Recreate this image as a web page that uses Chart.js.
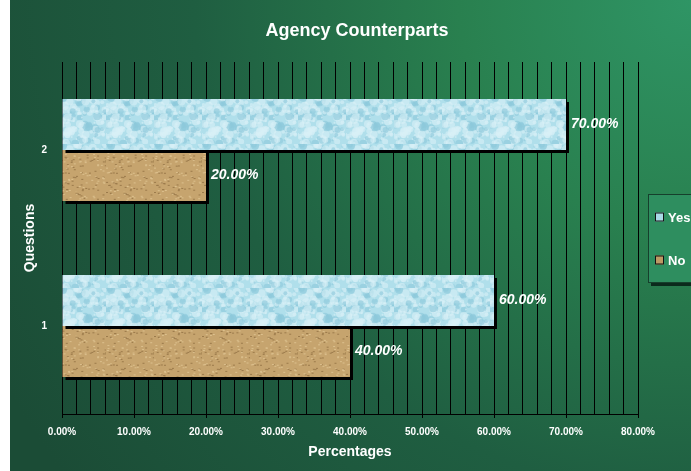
<!DOCTYPE html>
<html>
<head>
<meta charset="utf-8">
<script src="https://cdn.jsdelivr.net/npm/chart.js@4/dist/chart.umd.min.js"></script>
<style>
  html, body { margin: 0; padding: 0; background: #fff; }
  #wrap {
    position: absolute; left: 10px; top: 0; width: 681px; height: 471px;
    background: radial-gradient(circle at 100% 0%, #2f9565 0%, #29804f 28%, #1f5e41 60%, #1b4c36 95%);
  }
</style>
</head>
<body>
<div id="wrap"><canvas id="agencyChart" width="681" height="471"></canvas></div>
<script>
const questions = ['1', '2'];
const yesValues = [60, 70];
const noValues = [40, 20];
const seriesNames = ['Yes', 'No'];

const FONT = '"Liberation Sans", Arial, sans-serif';

// little textures for the bars
function makePattern(base, spot, dark, kind) {
  const c = document.createElement('canvas');
  c.width = 48; c.height = 48;
  const g = c.getContext('2d');
  g.fillStyle = base;
  g.fillRect(0, 0, 48, 48);
  for (let i = 0; i < 140; i++) {
    const x = (Math.sin(i * 12.9898) * 43758.5453 % 1 + 1) % 1 * 48;
    const y = (Math.sin(i * 78.233) * 12345.678 % 1 + 1) % 1 * 48;
    if (kind === 'water') {
      g.fillStyle = i % 3 ? spot : dark;
      g.globalAlpha = 0.6;
      g.beginPath();
      g.arc(x, y, 1 + (i % 4), 0, Math.PI * 2);
      g.fill();
    } else {
      g.fillStyle = i % 2 ? spot : dark;
      g.fillRect(x, y, 2, 1);
    }
  }
  return g.createPattern(c, 'repeat');
}
const yesFill = makePattern('#b0dfeb', '#d8f0f6', '#8cc8db', 'water');
const noFill = makePattern('#c6a46e', '#dcc08e', '#9c7b4c', 'burlap');

const decor = {
  id: 'decor',
  beforeDatasetsDraw(chart) {
    const ctx = chart.ctx;
    ctx.save();
    ctx.shadowColor = '#000';
    ctx.shadowOffsetX = 3;
    ctx.shadowOffsetY = 3;
    ctx.shadowBlur = 0;
  },
  afterDatasetsDraw(chart) {
    const ctx = chart.ctx;
    ctx.restore();
    ctx.save();
    ctx.font = 'italic bold 14px ' + FONT;
    ctx.fillStyle = '#fff';
    ctx.textBaseline = 'middle';
    chart.data.datasets.forEach((ds, i) => {
      chart.getDatasetMeta(i).data.forEach((el, j) => {
        ctx.fillText(ds.data[j].toFixed(2) + '%', el.x + 5, el.y);
      });
    });
    ctx.restore();
  },
  afterDraw(chart) {
    const ctx = chart.ctx;
    ctx.save();
    // title
    ctx.font = 'bold 18px ' + FONT;
    ctx.fillStyle = '#fff';
    ctx.textAlign = 'center';
    ctx.textBaseline = 'middle';
    ctx.fillText('Agency Counterparts', 347, 31);
    // legend
    ctx.fillStyle = '#0b2a1c';
    ctx.fillRect(641, 197, 60, 89);
    ctx.fillStyle = '#2e8e5f';
    ctx.fillRect(638, 194, 60, 88);
    ctx.strokeStyle = '#163f2c';
    ctx.lineWidth = 1;
    ctx.strokeRect(638.5, 194.5, 60, 88);
    const fills = ['#a9d9e6', '#bd9a64'];
    const ys = [217, 260];
    ctx.textAlign = 'left';
    ctx.font = 'bold 13px ' + FONT;
    seriesNames.forEach((name, i) => {
      ctx.fillStyle = fills[i];
      ctx.fillRect(645, ys[i] - 4.5, 9, 9);
      ctx.strokeStyle = '#111';
      ctx.strokeRect(645.5, ys[i] - 4, 8, 8);
      ctx.fillStyle = '#fff';
      ctx.fillText(name, 658, ys[i] + 1);
    });
    ctx.restore();
  }
};

const ctx = document.getElementById('agencyChart').getContext('2d');
new Chart(ctx, {
  type: 'bar',
  data: {
    labels: questions.slice().reverse(),
    datasets: [
      { label: seriesNames[0], data: yesValues.slice().reverse(), backgroundColor: yesFill, borderWidth: 0 },
      { label: seriesNames[1], data: noValues.slice().reverse(), backgroundColor: noFill, borderWidth: 0 },
    ],
  },
  options: {
    indexAxis: 'y',
    responsive: false,
    animation: false,
    layout: { padding: { top: 62, right: 53, left: 0, bottom: 0 } },
    datasets: { bar: { categoryPercentage: 0.58, barPercentage: 1 } },
    plugins: {
      legend: { display: false },
      title: { display: false },
      tooltip: { enabled: false },
    },
    scales: {
      x: {
        min: 0,
        max: 80,
        afterFit: (s) => { s.height = 57; },
        ticks: {
          stepSize: 2,
          autoSkip: false,
          maxRotation: 0,
          padding: 8,
          color: '#fff',
          font: { size: 10, weight: 'bold', family: FONT },
          callback: (v) => (v % 10 === 0 ? v.toFixed(2) + '%' : ''),
        },
        grid: {
          color: '#000',
          lineWidth: 1,
          tickLength: 4,
          tickColor: (c) => (c.tick && c.tick.value % 10 === 0 ? '#000' : 'rgba(0,0,0,0)'),
        },
        border: { display: true, color: '#000' },
        title: {
          display: true,
          text: 'Percentages',
          color: '#fff',
          padding: { top: 4, bottom: 10 },
          font: { size: 14, weight: 'bold', family: FONT },
        },
      },
      y: {
        afterFit: (s) => { s.width = 52; },
        ticks: {
          padding: 7,
          color: '#fff',
          font: { size: 10, weight: 'bold', family: FONT },
        },
        grid: { display: false },
        border: { display: false },
        title: {
          display: true,
          text: 'Questions',
          color: '#fff',
          padding: { top: 12, bottom: 0 },
          font: { size: 14, weight: 'bold', family: FONT },
        },
      },
    },
  },
  plugins: [decor],
});
</script>
</body>
</html>
